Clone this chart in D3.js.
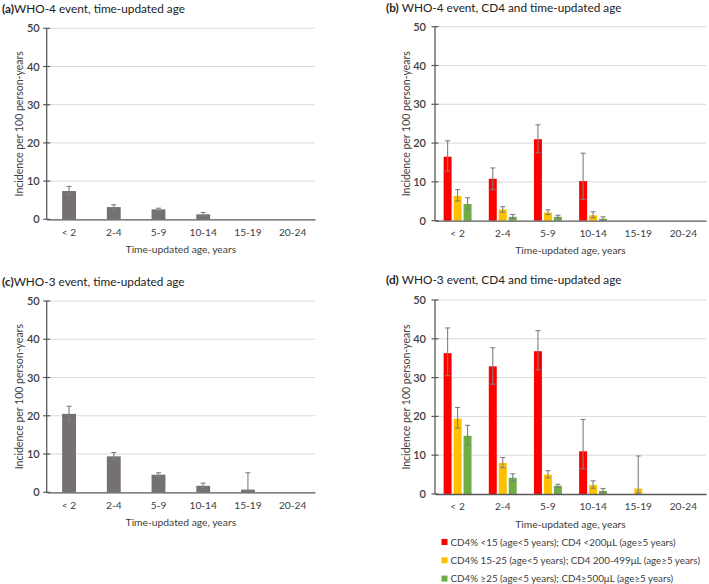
<!DOCTYPE html>
<html>
<head>
<meta charset="utf-8">
<script src="https://cdn.jsdelivr.net/npm/d3@7"></script>
<style>
html,body{margin:0;padding:0;background:#fff;}
svg{display:block;font-family:Lato, "Open Sans", sans-serif;}
</style>
</head>
<body>
<svg id="chart" width="709" height="584"></svg>
<script>
// ---------- DATA ----------
const categories = ["< 2", "2-4", "5-9", "10-14", "15-19", "20-24"];
const yTicks = [0, 10, 20, 30, 40, 50];

// (a) WHO-4 event, time-updated age
const who4Age   = [7.4, 3.2, 2.6, 1.3, null, null];
const who4AgeLo = [6.3, 2.6, 2.3, 0.9, null, null];
const who4AgeHi = [8.6, 3.8, 2.9, 1.8, null, null];

// (c) WHO-3 event, time-updated age
const who3Age   = [20.5, 9.4, 4.6, 1.7, 0.7, null];
const who3AgeLo = [18.7, 8.5, 4.2, 1.2, 0.1, null];
const who3AgeHi = [22.5, 10.4, 5.1, 2.4, 5.1, null];

// CD4 strata
const seriesNames = [
  "CD4% <15 (age<5 years); CD4 <200\u03bcL (age\u22655 years)",
  "CD4% 15-25 (age<5 years); CD4 200-499\u03bcL (age\u22655 years)",
  "CD4% \u226525 (age<5 years); CD4\u2265500\u03bcL (age\u22655 years)"
];
const seriesColors = ["#FF0000", "#FFC000", "#70AD47"];

// (b) WHO-4 event, CD4 and time-updated age
const who4Low    = [16.5, 10.8, 21.0, 10.2, null, null];
const who4LowLo  = [12.8, 8.0, 17.5, 5.5, null, null];
const who4LowHi  = [20.6, 13.6, 24.7, 17.4, null, null];
const who4Mid    = [6.4, 2.9, 2.1, 1.4, null, null];
const who4MidLo  = [5.1, 2.2, 1.6, 0.8, null, null];
const who4MidHi  = [8.0, 3.6, 2.8, 2.3, null, null];
const who4High   = [4.3, 1.0, 1.0, 0.5, null, null];
const who4HighLo = [3.0, 0.6, 0.7, 0.2, null, null];
const who4HighHi = [5.9, 1.6, 1.4, 1.0, null, null];

// (d) WHO-3 event, CD4 and time-updated age
const who3Low    = [36.3, 32.9, 36.8, 11.0, null, null];
const who3LowLo  = [30.5, 28.3, 32.0, 6.5, null, null];
const who3LowHi  = [42.8, 37.7, 42.1, 19.2, null, null];
const who3Mid    = [19.4, 8.0, 5.0, 2.3, 1.4, null];
const who3MidLo  = [17.0, 6.8, 4.2, 1.5, 0.2, null];
const who3MidHi  = [22.3, 9.4, 6.0, 3.4, 9.8, null];
const who3High   = [15.0, 4.2, 2.1, 0.8, null, null];
const who3HighLo = [12.7, 3.4, 1.7, 0.4, null, null];
const who3HighHi = [17.7, 5.2, 2.5, 1.4, null, null];

const titles = {
  a: ["(a)", "WHO-4 event, time-updated age"],
  b: ["(b)", " WHO-4 event, CD4 and time-updated age"],
  c: ["(c)", "WHO-3 event, time-updated age"],
  d: ["(d)", " WHO-3 event, CD4 and time-updated age"]
};
const yTitle = "Incidence per 100 person-years";
const xTitle = "Time-updated age, years";

// ---------- DRAW ----------
const svg = d3.select("#chart");
const axisColor = "#595959";
const gridColor = "#D9D9D9";
const textColor = "#404040";
const errColor = "#7F7F7F";

function drawTitle(tx, ty, t) {
  const txt = svg.append("text").attr("x", tx).attr("y", ty)
    .attr("font-size", 11.8).attr("fill", "#222");
  txt.append("tspan").attr("font-weight", "bold").text(t[0]);
  txt.append("tspan").text(t[1]);
}

function drawPanel(p) {
  const x = d3.scaleBand().domain(categories).range([p.left, p.right]).padding(0);
  const y = d3.scaleLinear().domain([0, 50]).range([p.bottom, p.top]);
  const g = svg.append("g");

  // gridlines
  g.append("g").selectAll("line").data(yTicks.filter(v => v > 0)).join("line")
    .attr("x1", p.left).attr("x2", p.right)
    .attr("y1", d => y(d)).attr("y2", d => y(d))
    .attr("stroke", gridColor).attr("stroke-width", 1);

  // y axis
  const ya = g.append("g").attr("transform", `translate(${p.left},0)`)
    .call(d3.axisLeft(y).tickValues(yTicks).tickSize(0).tickPadding(p.tickPad));
  ya.select(".domain").remove();
  ya.selectAll("text").attr("font-size", 11).attr("fill", textColor)
    .attr("font-family", "Lato, sans-serif").attr("font-weight", 600);
  // cross tick marks
  g.append("g").selectAll("line").data(yTicks).join("line")
    .attr("x1", p.left - 3.5).attr("x2", p.left + 3.5)
    .attr("y1", d => y(d)).attr("y2", d => y(d))
    .attr("stroke", axisColor).attr("stroke-width", 1.2);
  g.append("line").attr("x1", p.left).attr("x2", p.left)
    .attr("y1", y(50)).attr("y2", y(0))
    .attr("stroke", axisColor).attr("stroke-width", 1.3);

  // series bars
  const multi = p.series.length > 1;
  const sub = d3.scaleBand().domain(d3.range(p.series.length))
    .range(multi ? [x.bandwidth() * 0.18, x.bandwidth() * 0.82] : [x.bandwidth() * 0.345, x.bandwidth() * 0.655])
    .paddingInner(multi ? 0.2 : 0).paddingOuter(multi ? 0.05 : 0);

  p.series.forEach((s, si) => {
    const rows = categories.map((c, i) => ({c, v: s.v[i], lo: s.lo[i], hi: s.hi[i]}))
      .filter(r => r.v != null);
    g.append("g").selectAll("rect").data(rows).join("rect")
      .attr("x", r => x(r.c) + sub(si))
      .attr("width", sub.bandwidth())
      .attr("y", r => y(r.v))
      .attr("height", r => y(0) - y(r.v))
      .attr("fill", s.color);
    const eb = g.append("g").attr("stroke", errColor).attr("stroke-width", 1.1);
    const cx = r => x(r.c) + sub(si) + sub.bandwidth() / 2;
    const cap = 2.5;
    eb.selectAll("line.w").data(rows).join("line").attr("class", "w")
      .attr("x1", cx).attr("x2", cx).attr("y1", r => y(r.lo)).attr("y2", r => y(r.hi));
    eb.selectAll("line.t").data(rows).join("line").attr("class", "t")
      .attr("x1", r => cx(r) - cap).attr("x2", r => cx(r) + cap)
      .attr("y1", r => y(r.hi)).attr("y2", r => y(r.hi));
    eb.selectAll("line.b").data(rows).join("line").attr("class", "b")
      .attr("x1", r => cx(r) - cap).attr("x2", r => cx(r) + cap)
      .attr("y1", r => y(r.lo)).attr("y2", r => y(r.lo));
  });

  // x axis
  const xa = g.append("g").attr("transform", `translate(0,${p.bottom})`)
    .call(d3.axisBottom(x).tickSize(0).tickPadding(p.catPad));
  xa.select(".domain").attr("stroke", axisColor).attr("stroke-width", 1.3);
  xa.selectAll("text").attr("font-size", 10.2).attr("fill", textColor)
    .attr("font-family", "Lato, sans-serif");

  // axis titles
  svg.append("text").attr("x", (p.left + p.right) / 2).attr("y", p.bottom + p.xTitleOff)
    .attr("text-anchor", "middle").attr("font-size", 10.3).attr("fill", textColor)
    .text(xTitle);
  svg.append("text")
    .attr("transform", `translate(${p.yTitleX},${(p.top + p.bottom) / 2}) rotate(-90)`)
    .attr("text-anchor", "middle").attr("font-size", 10.5).attr("fill", textColor)
    .text(yTitle);
}

const grey = "#767171";

drawTitle(2, 13, titles.a);
drawPanel({left: 46.7, right: 315, top: 28.3, bottom: 219.3, tickPad: 7, catPad: 9, xTitleOff: 33.5, yTitleX: 23,
  series: [{v: who4Age, lo: who4AgeLo, hi: who4AgeHi, color: grey}]});

drawTitle(2, 286, titles.c);
drawPanel({left: 46.7, right: 315, top: 301, bottom: 492.3, tickPad: 7, catPad: 9, xTitleOff: 33.5, yTitleX: 23,
  series: [{v: who3Age, lo: who3AgeLo, hi: who3AgeHi, color: grey}]});

drawTitle(386, 12, titles.b);
drawPanel({left: 435, right: 706, top: 26.7, bottom: 220.7, tickPad: 9, catPad: 9, xTitleOff: 33.5, yTitleX: 409.5,
  series: [
    {v: who4Low, lo: who4LowLo, hi: who4LowHi, color: seriesColors[0]},
    {v: who4Mid, lo: who4MidLo, hi: who4MidHi, color: seriesColors[1]},
    {v: who4High, lo: who4HighLo, hi: who4HighHi, color: seriesColors[2]}
  ]});

drawTitle(386, 284, titles.d);
drawPanel({left: 435, right: 706, top: 300, bottom: 494, tickPad: 9, catPad: 9, xTitleOff: 33.5, yTitleX: 409.5,
  series: [
    {v: who3Low, lo: who3LowLo, hi: who3LowHi, color: seriesColors[0]},
    {v: who3Mid, lo: who3MidLo, hi: who3MidHi, color: seriesColors[1]},
    {v: who3High, lo: who3HighLo, hi: who3HighHi, color: seriesColors[2]}
  ]});

// legend
const leg = svg.append("g").attr("transform", "translate(441.5,542)");
const li = leg.selectAll("g").data(seriesNames).join("g")
  .attr("transform", (d, i) => `translate(0,${i * 18.3})`);
li.append("rect").attr("x", 0).attr("y", -3).attr("width", 6).attr("height", 6)
  .attr("fill", (d, i) => seriesColors[i]);
li.append("text").attr("x", 9).attr("y", 3.6).attr("font-size", 9.8).attr("fill", textColor)
  .text(d => d);
</script>
</body>
</html>
